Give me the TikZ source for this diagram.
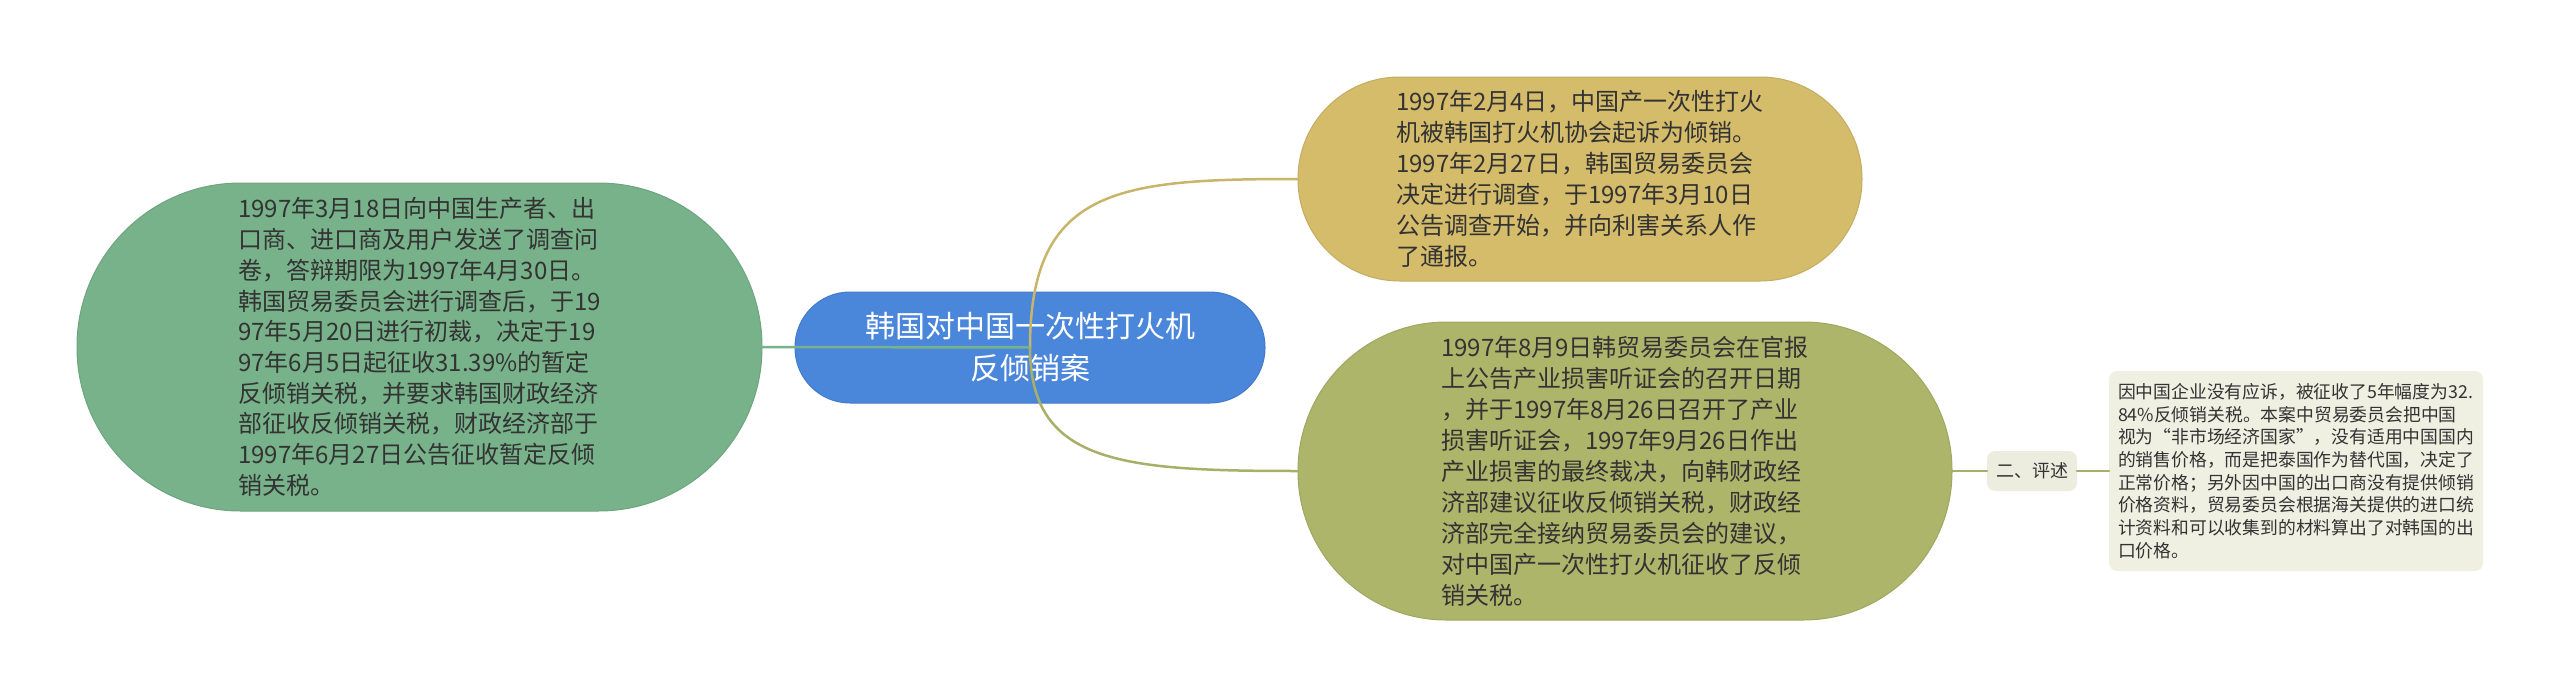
\documentclass[tikz,border=0pt]{standalone}
\usepackage{fontspec}
\setmainfont{Noto Sans CJK SC}
\usetikzlibrary{calc}
\definecolor{cgreen}{HTML}{78B28A}
\definecolor{cblue}{HTML}{4A86DA}
\definecolor{cyellow}{HTML}{D4BC6A}
\definecolor{colive}{HTML}{ADB56B}
\definecolor{cpale}{HTML}{EDEDDF}
\definecolor{ccomment}{HTML}{EFEFE2}
\definecolor{lgreen}{HTML}{78B28A}
\definecolor{lyellow}{HTML}{C9B56A}
\definecolor{lolive}{HTML}{A8B068}
\definecolor{textgray}{HTML}{333333}
\begin{document}
\begin{tikzpicture}[x=1pt,y=-1pt,
  every node/.style={inner sep=0pt, outer sep=0pt, text=textgray},
  pill/.style={rectangle, draw=#1!92!black, fill=#1, line width=1pt},
  bodytext/.style={align=left, font=\fontsize{24}{31}\selectfont},
  conn/.style={line width=2.5pt, line cap=round}]
\useasboundingbox (0,0) rectangle (2560,696);

\node[pill=cblue, minimum width=470, minimum height=111, rounded corners=55,
      align=center, text=white, font=\fontsize{30}{42}\selectfont]
  (root) at (1030,347.5) {韩国对中国一次性打火机\\反倾销案};

\node[pill=cgreen, minimum width=685, minimum height=328, rounded corners=163.5,
      bodytext, font=\fontsize{24}{30.7}\selectfont]
  (n1) at (419.5,347) {1997年3月18日向中国生产者、出\\
口商、进口商及用户发送了调查问\\
卷，答辩期限为1997年4月30日。\\
韩国贸易委员会进行调查后，于19\\
97年5月20日进行初裁，决定于19\\
97年6月5日起征收31.39\%的暂定\\
反倾销关税，并要求韩国财政经济\\
部征收反倾销关税，财政经济部于\\
1997年6月27日公告征收暂定反倾\\
销关税。};

\node[pill=cyellow, minimum width=564, minimum height=204, rounded corners=101.5,
      bodytext]
  (n2) at (1580,179) {1997年2月4日，中国产一次性打火\\
机被韩国打火机协会起诉为倾销。\\
1997年2月27日，韩国贸易委员会\\
决定进行调查，于1997年3月10日\\
公告调查开始，并向利害关系人作\\
了通报。};

\node[pill=colive, minimum width=654, minimum height=298, rounded corners=148.5,
      bodytext]
  (n3) at (1625,471) {1997年8月9日韩贸易委员会在官报\\
上公告产业损害听证会的召开日期\\
，并于1997年8月26日召开了产业\\
损害听证会，1997年9月26日作出\\
产业损害的最终裁决，向韩财政经\\
济部建议征收反倾销关税，财政经\\
济部完全接纳贸易委员会的建议，\\
对中国产一次性打火机征收了反倾\\
销关税。};

\node[rectangle, fill=cpale, minimum width=90, minimum height=40, rounded corners=8,
      font=\fontsize{18}{22}\selectfont]
  (n4) at (2032,471) {二、评述};

\node[rectangle, fill=ccomment, minimum width=374, minimum height=200, rounded corners=8,
      align=left, font=\fontsize{17.8}{22.7}\selectfont]
  (n5) at (2296,471) {因中国企业没有应诉，被征收了5年幅度为32.\\
84\%反倾销关税。本案中贸易委员会把中国\\
视为“非市场经济国家”，没有适用中国国内\\
的销售价格，而是把泰国作为替代国，决定了\\
正常价格；另外因中国的出口商没有提供倾销\\
价格资料，贸易委员会根据海关提供的进口统\\
计资料和可以收集到的材料算出了对韩国的出\\
口价格。};

\draw[conn, draw=lgreen] (root.center) -- (n1.east);
\draw[conn, draw=lyellow] (root.center)
  .. controls ($(root.center |- n2.west)+(0,8)$) and ($(root.center |- n2.west)+(90,0)$) .. (n2.west);
\draw[conn, draw=lolive] (root.center)
  .. controls ($(root.center |- n3.west)+(0,-8)$) and ($(root.center |- n3.west)+(90,0)$) .. (n3.west);
\draw[conn, draw=lolive] (n3.east) -- (n4.west);
\draw[conn, draw=lolive] (n4.east) -- (n5.west);
\end{tikzpicture}
\end{document}
